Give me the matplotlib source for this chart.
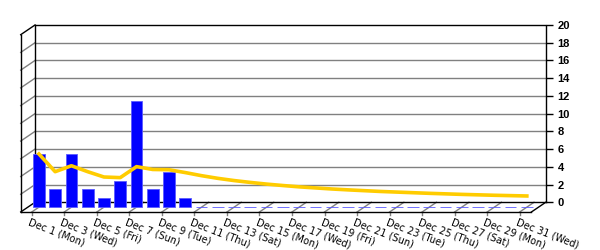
import matplotlib
matplotlib.use("Agg")
import matplotlib.pyplot as plt
from matplotlib.transforms import offset_copy

# daily counts, Dec 1 .. Dec 31 (only the first ten days have hits)
days = list(range(1, 32))
counts = [6, 2, 6, 2, 1, 3, 12, 2, 4, 1] + [0] * 21
# running average
running_avg = [6.0, 4.0, 4.67, 4.0, 3.4, 3.33, 4.57, 4.25, 4.22, 3.9,
               3.55, 3.25, 3.0, 2.79, 2.6, 2.44, 2.29, 2.17, 2.05, 1.95,
               1.86, 1.77, 1.7, 1.63, 1.56, 1.5, 1.44, 1.39, 1.34, 1.3, 1.26]
tick_days = list(range(1, 32, 2))
tick_labels = ["Dec 1 (Mon)", "Dec 3 (Wed)", "Dec 5 (Fri)", "Dec 7 (Sun)",
               "Dec 9 (Tue)", "Dec 11 (Thu)", "Dec 13 (Sat)", "Dec 15 (Mon)",
               "Dec 17 (Wed)", "Dec 19 (Fri)", "Dec 21 (Sun)", "Dec 23 (Tue)",
               "Dec 25 (Thu)", "Dec 27 (Sat)", "Dec 29 (Mon)", "Dec 31 (Wed)"]
y_ticks = list(range(0, 21, 2))

fig = plt.figure(figsize=(6, 2.5), dpi=100)
ax = fig.add_axes([35 / 600, 47.7 / 250, 510.7 / 600, 177.3 / 250])
x0, x1 = 0.32, 31.72
ax.set_xlim(x0, x1)
ax.set_ylim(0, 20)
for s in ax.spines.values():
    s.set_visible(False)
ax.set_xticks([])

# depth of the fake 3d box in pixels, turned into data units
depth_px = (14.3, 9.7)
dx = -depth_px[0] / (510.7 / (x1 - x0))
dy = -depth_px[1] / (177.3 / 20)

grid = "#808080"
# back wall grid
for v in y_ticks[1:-1]:
    ax.plot([x0, x1], [v, v], color=grid, lw=1, zorder=1, clip_on=False)
    # left wall
    ax.plot([x0, x0 + dx], [v, v + dy], color=grid, lw=1, zorder=1, clip_on=False)

# floor ticks
for d in tick_days:
    ax.plot([d, d + dx], [0, dy], color=grid, lw=1, zorder=1, clip_on=False)
    ax.plot([d + dx, d + dx], [dy, dy * 1.33], color=grid, lw=1, zorder=1, clip_on=False)

# box outline
k = dict(color="black", lw=1, zorder=2, clip_on=False)
ax.plot([x0, x1, x1], [20, 20, 0], **k)
ax.plot([x0, x1], [0, 0], **k)
ax.plot([x0, x0], [0, 20], **k)
ax.plot([x0 + dx, x0 + dx], [dy, 20 + dy], **k)
ax.plot([x0, x0 + dx], [20, 20 + dy], **k)
ax.plot([x0, x0 + dx], [0, dy], **k)
ax.plot([x0 + dx, x1 + dx], [dy, dy], **k)
ax.plot([x1, x1 + dx], [0, dy], **k)

# bars and line sit half way into the box
mx = [d + dx / 2 for d in days]
ax.bar(mx, counts, width=0.72, bottom=dy / 2, color="#0000ff",
       edgecolor="#5a5aff", linewidth=0.6, zorder=3, clip_on=False)
ax.plot(mx, [v + dy / 2 for v in running_avg], color="#ffcc00", lw=2.6,
        zorder=4, clip_on=False, solid_joinstyle="round")

# x labels on the front edge
lab_tr = offset_copy(ax.transData, fig, x=-1.5, y=-5.5, units="dots")
for d, t in zip(tick_days, tick_labels):
    ax.text(d + dx, dy, t, transform=lab_tr, fontsize=7, rotation=-21,
            rotation_mode="anchor", ha="left", va="top", color="black")

ax.yaxis.tick_right()
ax.set_yticks(y_ticks)
ax.tick_params(axis="y", length=5, width=1, pad=3.5, colors="black")
for lbl in ax.get_yticklabels():
    lbl.set_fontfamily("Liberation Sans")
    lbl.set_fontweight("bold")
    lbl.set_fontsize(8)

fig.savefig("out.png", dpi=100)
